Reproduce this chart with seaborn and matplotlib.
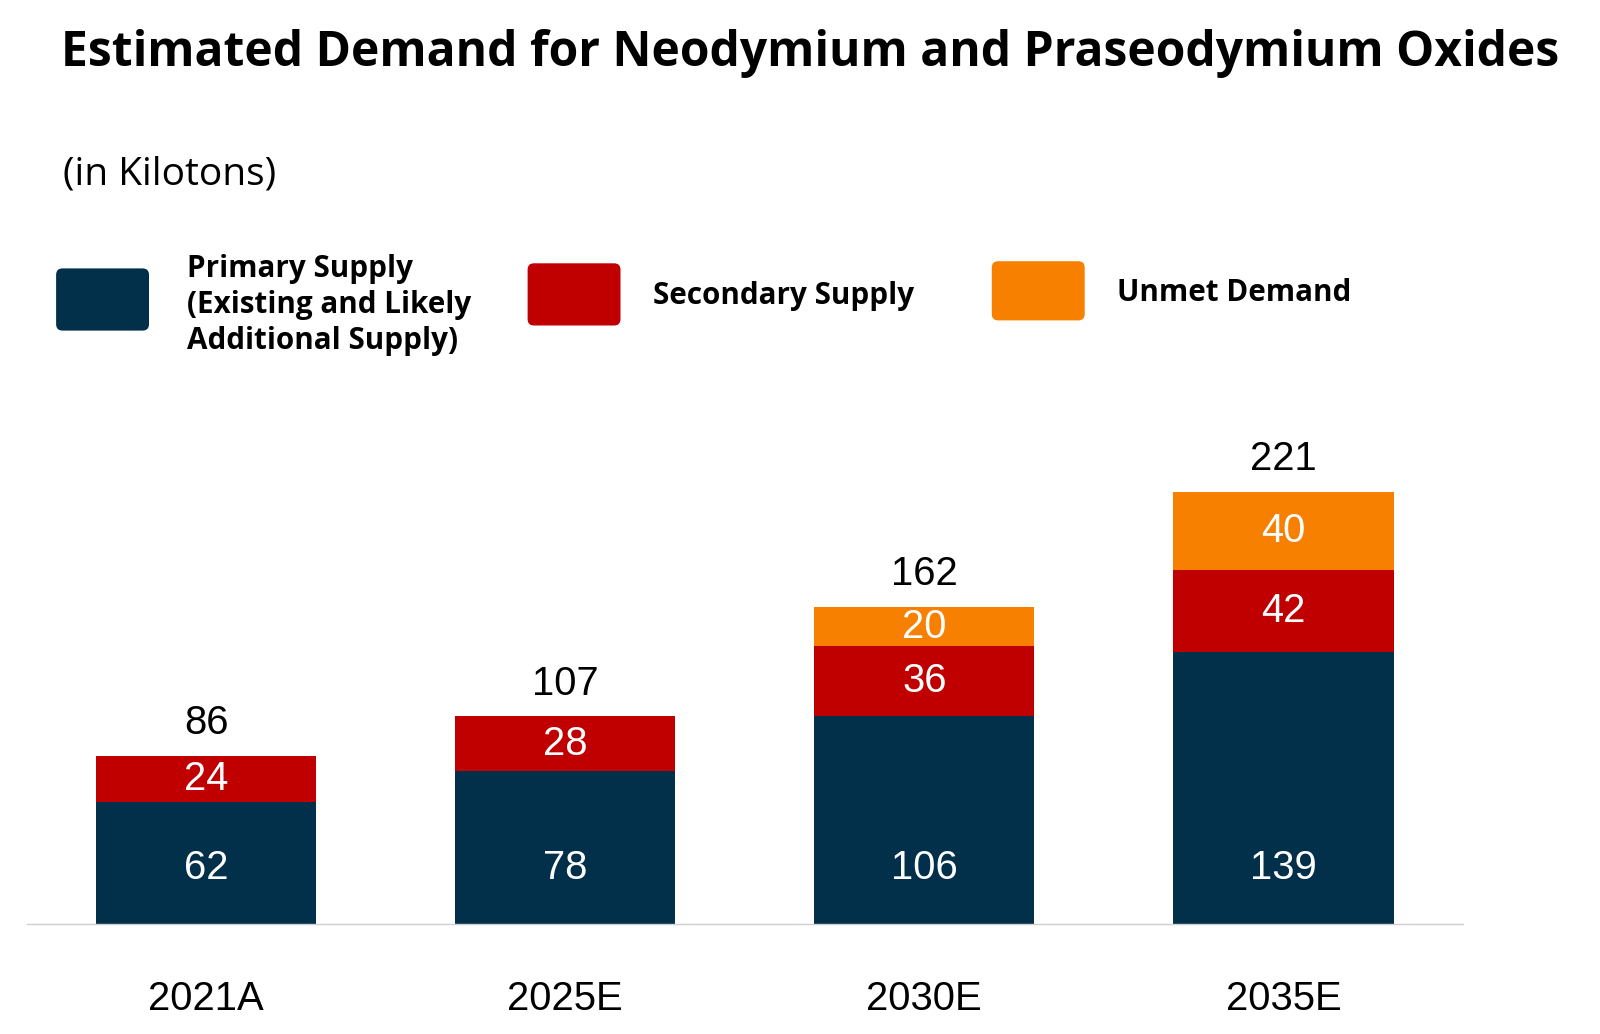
import matplotlib
matplotlib.use("Agg")
import matplotlib.pyplot as plt
from matplotlib.patches import FancyBboxPatch
import seaborn as sns
import pandas as pd

years = ["2021A", "2025E", "2030E", "2035E"]
primary = [62, 78, 106, 139]
secondary = [24, 28, 36, 42]
unmet = [0, 0, 20, 40]
totals = [86, 107, 162, 221]

c_primary = "#02304A"
c_secondary = "#C00000"
c_unmet = "#F78000"

sns.set_theme(style="white")
plt.rcParams["font.family"] = ["Liberation Sans", "DejaVu Sans"]

W, H = 1600, 1034
fig = plt.figure(figsize=(W / 100, H / 100), dpi=100)
ax_left, ax_right, ax_bottom, ax_top = 26.5, 1463, 923.5, 407.8
ax = fig.add_axes([ax_left / W, 1 - ax_bottom / H, (ax_right - ax_left) / W,
                   (ax_bottom - ax_top) / H])

df = pd.DataFrame({"year": years, "primary": primary,
                   "secondary": secondary, "unmet": unmet})
df["lvl2"] = df["primary"] + df["secondary"]
df["lvl3"] = df["lvl2"] + df["unmet"]

bw = 216 / 352
sns.barplot(data=df, x="year", y="lvl3", order=years, color=c_unmet,
            saturation=1, width=bw, ax=ax, linewidth=0)
sns.barplot(data=df, x="year", y="lvl2", order=years, color=c_secondary,
            saturation=1, width=bw, ax=ax, linewidth=0)
sns.barplot(data=df, x="year", y="primary", order=years, color=c_primary,
            saturation=1, width=bw, ax=ax, linewidth=0)

ax.set_xlim(-0.5, 3.5)
ax.set_ylim(0, 264)
ax.set_xlabel("")
ax.set_ylabel("")
ax.set_yticks([])
for s in ["top", "right", "left"]:
    ax.spines[s].set_visible(False)
ax.spines["bottom"].set_color("#cfcfcf")
ax.spines["bottom"].set_linewidth(1.0)
ax.tick_params(axis="x", length=0, pad=41, labelsize=28.8, labelcolor="black")

num_fs = 28.8
for i in range(len(years)):
    p, s, u, t = primary[i], secondary[i], unmet[i], totals[i]
    ax.text(i, 28.5, str(p), ha="center", va="center", color="white", fontsize=num_fs)
    ax.text(i, p + s / 2, str(s), ha="center", va="center", color="white", fontsize=num_fs)
    if u > 0:
        ax.text(i, p + s + u / 2, str(u), ha="center", va="center", color="white", fontsize=num_fs)
    ax.annotate(str(t), xy=(i, p + s + u), xytext=(0, 23.5), textcoords="offset points",
                ha="center", va="center", color="black", fontsize=num_fs)

bold_fam = ["Open Sans", "DejaVu Sans"]
fig.text(61 / W, 1 - 53 / H, "Estimated Demand for Neodymium and Praseodymium Oxides",
         ha="left", va="center", fontsize=34.6, fontweight="bold", color="black",
         family=bold_fam)
fig.text(63 / W, 1 - 174.5 / H, "(in Kilotons)", ha="left", va="center", fontsize=28,
         color="black", family=["Open Sans", "DejaVu Sans"])

legend_items = [
    (c_primary, (56.1, 268.4, 92.9, 62.2), "Primary Supply\n(Existing and Likely\nAdditional Supply)", (186.7, 305)),
    (c_secondary, (527.6, 263.3, 92.9, 62.2), "Secondary Supply", (653, 296)),
    (c_unmet, (991.8, 261.2, 92.9, 59.2), "Unmet Demand", (1117.3, 293)),
]
for col, (x0, y0, w, h), label, (tx, ty) in legend_items:
    patch = FancyBboxPatch((x0 / W, 1 - (y0 + h) / H), w / W, h / H,
                           boxstyle="round,pad=0,rounding_size=0.004",
                           transform=fig.transFigure, facecolor=col, edgecolor="none",
                           mutation_aspect=W / H)
    fig.patches.append(patch)
    fig.text(tx / W, 1 - ty / H, label, ha="left", va="center", fontsize=21.3,
             fontweight="bold", color="black", linespacing=1.24,
             family=bold_fam)

fig.savefig("out.png", dpi=100, facecolor="white")
